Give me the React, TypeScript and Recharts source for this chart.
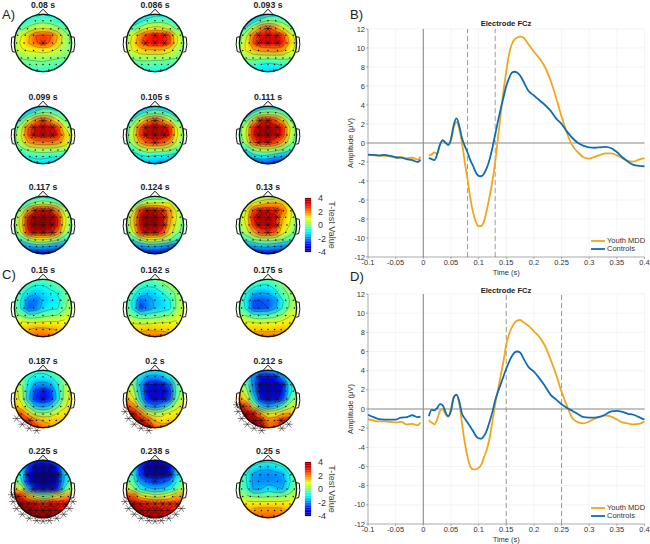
import {
  CartesianGrid,
  Legend,
  Line,
  LineChart,
  ReferenceArea,
  ReferenceDot,
  ReferenceLine,
  Scatter,
  ScatterChart,
  XAxis,
  YAxis,
} from 'recharts';

const FONT = '"Liberation Sans", Arial, sans-serif';

// waveform panels, null is the gap around stimulus onset
const times = [
  -0.1, -0.09, -0.08, -0.07, -0.06, -0.05, -0.04, -0.03, -0.02, -0.01, -0.005, 0.002,
  0.01, 0.015, 0.02, 0.025, 0.03, 0.035, 0.04, 0.045, 0.05, 0.055,
  0.06, 0.065, 0.07, 0.075, 0.08, 0.085, 0.09, 0.095, 0.1, 0.105,
  0.11, 0.115, 0.12, 0.125, 0.13, 0.135, 0.14, 0.145, 0.15, 0.155,
  0.16, 0.165, 0.17, 0.175, 0.18,
  0.19, 0.2, 0.21, 0.22, 0.23, 0.24, 0.25, 0.26, 0.27, 0.28, 0.29,
  0.3, 0.31, 0.32, 0.33, 0.34, 0.35, 0.36, 0.37, 0.38, 0.39, 0.4,
];

const mddB = [
  -1.2, -1.3, -1.35, -1.35, -1.4, -1.55, -1.5, -1.6, -1.55, -1.75, -1.45, null,
  -1.3, -1.2, -1.0, -1.1, -0.2, 0.25, 0, -0.2, 0.3, 1.6,
  2.2, 1.5, 0, -2, -3.8, -5.8, -7.3, -8.3, -8.75, -8.75,
  -8.2, -7, -5.6, -4, -2, 0.5, 3, 5.5, 7.5, 9.3,
  10.4, 10.9, 11.1, 11.2, 11.15,
  10.4, 9.6, 8.9, 8, 6.6, 4.8, 2.8, 1, -0.3, -1, -1.5,
  -1.65, -1.45, -1.25, -1.1, -1.1, -1.3, -1.6, -1.9, -1.95, -1.75, -1.6,
];
const controlsB = [
  -1.25, -1.25, -1.3, -1.25, -1.35, -1.5, -1.55, -1.7, -1.8, -2.0, -1.75, null,
  -1.55, -1.7, -1.8, -1.2, -0.2, 0.3, 0.05, -0.2, 0.4, 1.9,
  2.6, 1.8, 0.5, -0.3, -1, -1.8, -2.4, -3.1, -3.45, -3.5,
  -3.2, -2.6, -1.7, -0.5, 0.9, 2.3, 3.6, 4.8, 6, 6.8,
  7.4, 7.5, 7.4, 7.1, 6.6,
  5.5, 5, 4.5, 4, 3.4, 2.6, 2, 1.2, 0.5, 0, -0.3,
  -0.45, -0.5, -0.45, -0.4, -0.55, -0.95, -1.5, -1.95, -2.3, -2.4, -2.45,
];
const mddD = [
  -1.05, -1.2, -1.3, -1.3, -1.35, -1.4, -1.35, -1.6, -1.55, -1.7, -1.4, null,
  -1.15, -1.4, -1.6, -1.1, -0.2, 0, -0.5, -0.8, 0, 1.2,
  1.5, 0.6, -1.5, -3.5, -5, -6, -6.3, -6.3, -6.15, -5.8,
  -5, -4.2, -3, -1.3, 0.5, 2, 3.5, 5, 6.7, 7.8,
  8.5, 9, 9.25, 9.3, 9.1,
  8.7, 8.1, 7.5, 6.6, 5.2, 3.6, 1.8, 0.3, -1, -1.4, -1.5,
  -1.3, -1, -0.8, -0.7, -0.8, -1.1, -1.4, -1.5, -1.6, -1.55, -1.3,
];
const controlsD = [
  -0.6, -0.85, -1.05, -1.1, -1.1, -1.1, -0.9, -0.85, -0.65, -0.85, -0.8, null,
  -0.75, -0.1, -0.15, 0.1, 0.5, 0.4, -0.3, -0.75, -0.2, 1.2,
  1.5, 0.8, -0.5, -1, -1.4, -1.85, -2.3, -2.8, -3.05, -3.1,
  -2.8, -2.2, -1.3, -0.3, 0.9, 1.8, 2.6, 3.4, 4.2, 4.9,
  5.5, 5.9, 6, 5.9, 5.4,
  4.4, 3.9, 3.2, 2.4, 1.5, 1, 0.5, 0.1, -0.2, -0.55, -0.85,
  -0.9, -0.9, -0.8, -0.55, -0.25, -0.2, -0.3, -0.5, -0.6, -0.85, -1.1,
];
const timeTicks = [-0.1, -0.05, 0, 0.05, 0.1, 0.15, 0.2, 0.25, 0.3, 0.35, 0.4];
const ampTicks = [-12, -10, -8, -6, -4, -2, 0, 2, 4, 6, 8, 10, 12];

// t-values on a 9x9 scalp grid, front of the head first, left to right
const t080 = [
  [-1, -1, -1, -1, -0.8, -1, -1, -1, -1],
  [-1, -1, -0.6, -0.3, -0.2, -0.3, -0.6, -1, -1],
  [-0.5, -0.2, 0.3, 0.7, 0.9, 0.7, 0.3, -0.2, -0.5],
  [0, 0.8, 1.5, 2.4, 2.6, 2.5, 1.6, 0.4, -0.2],
  [0.2, 1, 1.6, 2.3, 2.7, 2.3, 1.4, 0.4, -0.1],
  [0.2, 0.7, 0.9, 1, 1.1, 1, 0.6, 0.2, 0],
  [-0.1, 0.1, 0.2, 0.2, 0.3, 0.2, 0.1, 0, -0.2],
  [-0.6, -0.4, -0.3, -0.2, -0.2, -0.3, -0.4, -0.6, -0.7],
  [-1, -1, -0.8, -0.6, -0.6, -0.6, -0.8, -1, -1],
];
const t086 = [
  [-1.5, -1.5, -1.5, -1.3, -1, -1, -1, -1, -1],
  [-1.5, -1.4, -0.9, -0.4, -0.2, -0.2, -0.4, -0.9, -1],
  [-0.8, -0.3, 0.4, 1, 1.2, 1.1, 0.6, -0.1, -0.4],
  [0, 1, 2, 2.8, 3, 3, 2.6, 0.9, 0],
  [0.3, 1.2, 2.3, 2.9, 3, 3, 2.6, 0.9, 0.1],
  [0.3, 0.9, 1.3, 1.5, 1.5, 1.5, 1.1, 0.4, 0.1],
  [0, 0.2, 0.3, 0.3, 0.3, 0.3, 0.2, 0.1, -0.1],
  [-0.6, -0.5, -0.3, -0.3, -0.4, -0.4, -0.5, -0.6, -0.7],
  [-1.1, -1, -0.9, -0.8, -0.8, -0.9, -1, -1.1, -1.2],
];
const t093 = [
  [-2.5, -2.5, -2.4, -1.8, -1.2, -1.1, -1, -1, -1],
  [-2.4, -2, -1, -0.2, 0.2, 0.1, -0.2, -0.6, -0.8],
  [-1.4, -0.5, 0.8, 2, 2.6, 2, 1, 0.2, -0.2],
  [-0.4, 0.7, 2.3, 3.1, 3.3, 3.2, 2.8, 1.2, 0.4],
  [0, 1, 2.5, 3.2, 3.3, 3.3, 3.1, 1.5, 0.7],
  [0.3, 0.9, 1.5, 1.8, 1.9, 2, 1.8, 1, 0.6],
  [0, 0.2, 0.3, 0.3, 0.3, 0.3, 0.3, 0.2, 0.1],
  [-0.6, -0.6, -0.5, -0.8, -1, -0.9, -0.7, -0.6, -0.6],
  [-1, -1.1, -1.1, -1.2, -1.3, -1.3, -1.3, -1.2, -1.1],
];
const t099 = [
  [-3, -3, -2.6, -1.8, -1.3, -1.3, -1.4, -1.6, -1.8],
  [-2.6, -2, -1, -0.2, 0.3, 0.1, -0.4, -1, -1.4],
  [-1.4, -0.5, 0.9, 2, 2.6, 2, 1, 0, -0.7],
  [-0.5, 0.6, 2.4, 3.3, 3.5, 3.4, 2.8, 0.9, 0],
  [-0.2, 0.9, 2.6, 3.4, 3.6, 3.5, 3.2, 1.5, 0.6],
  [-0.2, 0.6, 1.7, 2.1, 2.2, 2.2, 2, 1.3, 0.6],
  [-0.6, -0.2, 0.2, 0.4, 0.5, 0.5, 0.4, 0.3, 0],
  [-1.3, -1, -0.8, -0.6, -0.6, -0.7, -0.8, -0.9, -1],
  [-1.8, -1.7, -1.5, -1.2, -1.2, -1.4, -1.5, -1.6, -1.7],
];
const t105 = [
  [-2.8, -2.8, -2.4, -1.8, -1.5, -1.6, -1.9, -2.1, -2.4],
  [-2.4, -1.9, -0.9, -0.2, 0, -0.2, -0.7, -1.5, -2],
  [-1.2, -0.4, 1, 2, 2.6, 2, 1, -0.2, -1],
  [-0.5, 0.6, 2.5, 3.5, 3.7, 3.5, 3, 0.9, -0.1],
  [-0.3, 0.8, 2.7, 3.6, 3.7, 3.6, 3.2, 1, 0],
  [-0.4, 0.5, 1.8, 2.6, 2.8, 2.6, 1.9, 0.7, -0.1],
  [-1, -0.4, 0.2, 0.6, 0.6, 0.5, 0.3, -0.2, -0.7],
  [-1.8, -1.4, -1, -0.8, -1, -1, -1.1, -1.3, -1.5],
  [-2.3, -2.2, -1.9, -1.6, -1.7, -1.9, -2, -2.1, -2.2],
];
const t111 = [
  [-2.6, -2.6, -2.2, -1.6, -1.4, -1.4, -1.7, -2, -2.2],
  [-2.2, -1.6, -0.6, 0.2, 0.4, 0.3, -0.1, -1, -1.6],
  [-1, -0.2, 1.4, 2.8, 3.1, 2.6, 1.5, 0.2, -0.6],
  [-0.3, 0.8, 3, 3.7, 3.8, 3.6, 3, 0.9, -0.2],
  [-0.3, 0.9, 3.2, 3.8, 3.9, 3.6, 3, 0.8, -0.2],
  [-0.6, 0.5, 2.4, 3.1, 3.2, 2.7, 1.7, 0.4, -0.4],
  [-1.3, -0.6, 0.2, 0.6, 0.7, 0.4, 0, -0.5, -1],
  [-2.3, -1.8, -1.2, -1, -1.1, -1.4, -1.6, -1.8, -2],
  [-3.2, -3.2, -2.8, -2.5, -2.5, -2.9, -3, -3, -3],
];
const t117 = [
  [-1.6, -1.6, -1.4, -1.2, -1, -1.2, -1.4, -1.6, -1.8],
  [-1.3, -1, -0.3, 0.4, 0.6, 0.4, 0, -0.6, -1],
  [-0.6, 0.2, 1.8, 2.9, 3.2, 3, 2, 0.5, -0.1],
  [-0.1, 1.2, 3.5, 3.9, 4, 3.9, 3.3, 1, 0],
  [-0.1, 1.3, 3.6, 4, 4, 3.9, 3.3, 1, -0.1],
  [-0.4, 0.9, 3, 3.6, 3.7, 3.4, 2.2, 0.6, -0.4],
  [-1.2, -0.5, 0.3, 0.9, 1, 0.7, 0.2, -0.5, -1.1],
  [-2.4, -2.1, -1.6, -1.4, -1.4, -1.6, -1.8, -2.2, -2.5],
  [-3.6, -3.6, -3.5, -3.4, -3.4, -3.5, -3.6, -3.6, -3.7],
];
const t124 = [
  [-1, -1, -0.9, -0.7, -0.6, -0.7, -0.7, -1, -1.2],
  [-0.9, -0.3, 0.2, 0.8, 0.9, 1, 0.9, 0.1, -0.6],
  [-0.4, 0.7, 2.8, 3.4, 3.4, 2.8, 2, 0.7, -0.2],
  [0, 1.4, 3.6, 3.9, 3.9, 3.6, 1.9, 0.8, -0.1],
  [0, 1.4, 3.5, 3.9, 3.9, 3.5, 1.7, 0.6, -0.2],
  [-0.3, 0.9, 2.9, 3.6, 3.5, 2.9, 1.2, 0.3, -0.4],
  [-1.2, -0.5, 0.3, 0.9, 0.9, 0.6, 0.1, -0.6, -1.1],
  [-2.5, -2.2, -1.8, -1.5, -1.5, -1.7, -2, -2.3, -2.6],
  [-3.6, -3.6, -3.4, -3.3, -3.3, -3.4, -3.6, -3.6, -3.6],
];
const t130 = [
  [-0.6, -0.6, -0.3, 0, 0.2, 0.2, 0.1, -0.2, -0.6],
  [-0.4, 0.3, 0.9, 1.3, 1.6, 1.7, 1.5, 0.8, -0.1],
  [0, 0.8, 2.6, 3, 3, 2.9, 2.4, 1.1, 0.1],
  [0.2, 1.1, 3.2, 3.7, 3.7, 3.4, 1.7, 1, 0],
  [0.1, 0.9, 2.8, 3.6, 3.6, 3.3, 1.4, 0.8, -0.1],
  [-0.2, 0.5, 1.6, 2.7, 2.8, 2.4, 1.1, 0.4, -0.3],
  [-1, -0.5, 0, 0.3, 0.4, 0.3, 0, -0.4, -0.9],
  [-2.2, -2, -1.7, -1.4, -1.4, -1.6, -1.8, -2, -2.3],
  [-3.3, -3.4, -3.3, -3.1, -3.1, -3.2, -3.3, -3.4, -3.4],
];
const t150 = [
  [0.2, 0.1, 0, -0.2, -0.3, -0.2, 0, 0.1, 0.2],
  [0.1, -0.2, -0.6, -0.9, -0.9, -0.6, -0.4, -0.1, 0.2],
  [0, -0.6, -1.3, -1.5, -1.3, -1.1, -0.8, -0.3, 0.2],
  [0, -0.9, -2, -2.2, -1.5, -1.2, -1.1, -0.2, 0.3],
  [0, -0.9, -2.4, -2.1, -1.3, -1, -0.9, -0.1, 0.4],
  [0.2, -0.1, -0.6, -0.5, -0.3, -0.1, 0, 0.4, 0.7],
  [1, 0.9, 0.8, 0.8, 0.9, 0.9, 0.9, 1, 1],
  [1.3, 1.4, 1.6, 1.8, 1.8, 1.7, 1.5, 1.3, 1.2],
  [1.6, 1.7, 2, 2.2, 2.3, 2.2, 1.9, 1.6, 1.5],
];
const t162 = [
  [0.3, 0.1, 0, -0.2, -0.1, 0.2, 0.4, 0.4, 0.5],
  [0.1, -0.2, -0.6, -0.8, -0.7, -0.2, 0.1, 0.3, 0.5],
  [0, -0.6, -1.2, -1.5, -1.3, -0.9, -0.3, 0.1, 0.4],
  [-0.1, -1, -2.3, -1.9, -1.5, -1.3, -0.9, 0.1, 0.5],
  [-0.1, -1, -2.6, -2, -1.5, -1.3, -1, 0.1, 0.6],
  [0.2, -0.2, -0.6, -0.5, -0.4, -0.2, 0, 0.5, 0.8],
  [0.9, 0.7, 0.6, 0.6, 0.7, 0.8, 0.8, 0.9, 1],
  [1.3, 1.3, 1.4, 1.5, 1.4, 1.4, 1.3, 1.3, 1.3],
  [1.7, 1.8, 2, 2.2, 2.3, 2.2, 2, 1.8, 1.7],
];
const t175 = [
  [0.3, 0.2, 0, -0.1, -0.2, 0, 0.2, 0.4, 0.6],
  [0.1, -0.3, -0.7, -1, -1, -0.5, 0, 0.3, 0.5],
  [-0.1, -0.8, -1.5, -1.7, -1.6, -1.2, -0.3, 0.1, 0.4],
  [-0.2, -1.1, -2.4, -2.4, -2.3, -1.9, -0.9, 0, 0.4],
  [-0.1, -1, -2.5, -2.5, -2.4, -1.7, -0.8, 0.1, 0.6],
  [0.3, -0.1, -0.6, -0.7, -0.6, -0.3, 0.1, 0.7, 1],
  [1.1, 0.9, 0.8, 0.7, 0.8, 0.8, 1, 1.2, 1.3],
  [1.4, 1.4, 1.4, 1.4, 1.3, 1.4, 1.5, 1.4, 1.4],
  [1.8, 1.8, 2, 2.2, 2.2, 2.2, 2, 1.9, 1.8],
];
const t187 = [
  [0.2, 0, -0.3, -0.6, -0.6, -0.4, -0.1, 0.2, 0.4],
  [0.3, -0.1, -0.7, -1, -1.1, -0.9, -0.4, 0.1, 0.4],
  [0.9, 0.2, -1, -1.8, -1.9, -1.7, -0.9, 0.2, 0.7],
  [1.2, 0.4, -1.3, -2.6, -2.9, -2.7, -1.2, 0.3, 1],
  [1.3, 0.5, -1.4, -2.8, -3, -2.8, -1.3, 0.3, 1.2],
  [1.7, 1, -0.2, -1.5, -1.8, -1.4, -0.2, 0.6, 1.4],
  [2.7, 2.4, 1.2, 0.3, 0.1, 0.3, 0.8, 1.2, 1.6],
  [2.8, 2.9, 2.7, 1.9, 1.5, 1.4, 1.5, 1.5, 1.5],
  [2.8, 2.9, 2.9, 2.8, 2.2, 1.8, 1.7, 1.6, 1.6],
];
const t200 = [
  [0.4, 0.1, -0.4, -0.9, -1, -0.8, -0.2, 0.3, 0.5],
  [0.3, -0.2, -1.2, -1.8, -1.9, -1.7, -0.9, -0.1, 0.4],
  [0.9, -0.1, -1.6, -2.9, -3, -2.9, -2.3, -0.4, 0.4],
  [1.2, 0.3, -1.5, -3.2, -3.3, -3.3, -2.8, -0.5, 0.5],
  [1.7, 0.9, -1.2, -3, -3.3, -3.2, -2.6, -0.2, 0.7],
  [2.6, 2, 0.2, -1.7, -2.2, -1.7, -0.5, 0.5, 1.2],
  [3.5, 3.3, 2.2, 0.7, 0.3, 0.5, 1, 1.2, 1.4],
  [3.6, 3.6, 3.5, 2.6, 1.5, 1.2, 1.4, 1.4, 1.4],
  [3.6, 3.6, 3.5, 3.3, 2.4, 2, 2, 1.8, 1.6],
];
const t212 = [
  [0.2, -0.2, -1, -1.7, -1.8, -1.4, -0.7, -0.1, 0.3],
  [0.2, -0.6, -2, -3, -3.1, -2.9, -1.9, -0.6, 0.1],
  [0.6, -0.3, -2, -3.5, -3.5, -3.4, -3.1, -1.2, -0.1],
  [1.2, 0.3, -1.7, -3.5, -3.6, -3.5, -3.1, -1.1, 0],
  [2, 1, -1, -3.2, -3.5, -3.4, -2.7, -0.6, 0.4],
  [3, 2.6, 0.5, -1.2, -2, -1.5, -0.5, 0.4, 1],
  [3.8, 3.7, 3, 1.7, 0.7, 0.9, 1.4, 1.6, 1.6],
  [3.9, 3.9, 3.8, 3.4, 2, 2.2, 2.8, 3, 2.2],
  [3.9, 3.9, 3.9, 3.6, 2.4, 2.2, 2.8, 3, 2.2],
];
const t225 = [
  [-0.4, -1, -2, -2.8, -2.8, -2.7, -2, -1.1, -0.4],
  [-0.2, -1, -2.8, -3.5, -3.6, -3.6, -3, -1.2, -0.4],
  [0, -1, -3.2, -3.8, -3.9, -3.9, -3.6, -1.5, -0.5],
  [0.3, -0.7, -3.1, -3.9, -4, -3.9, -3.6, -1.4, -0.3],
  [1.6, 0.8, -1.6, -3.2, -3.6, -3.6, -2.9, -0.6, 0.5],
  [3, 2.9, 1.6, 0.5, -0.2, 0.2, 0.9, 1.6, 2],
  [3.8, 3.8, 3.4, 3.2, 2.6, 3, 3, 3, 2.8],
  [4, 4, 3.9, 3.6, 3.8, 3.6, 3.4, 3.2, 3],
  [4, 4, 4, 3.8, 3.9, 3.8, 3.4, 3.3, 3],
];
const t238 = [
  [-0.4, -1.1, -2.4, -3.2, -3.4, -3.2, -2.6, -1.4, -0.6],
  [-0.2, -1, -2.8, -3.6, -3.9, -3.8, -3.4, -1.7, -0.6],
  [0, -0.8, -2.7, -3.6, -3.8, -3.8, -3.3, -1.4, -0.4],
  [0.2, -0.5, -1.8, -2.4, -2.6, -2.5, -2.1, -0.8, -0.1],
  [1, 0.2, -0.9, -1.4, -1.6, -1.5, -1, -0.2, 0.6],
  [2.6, 2.4, 1.2, 0.8, 0.4, 0.6, 1, 1.6, 2],
  [3.6, 3.5, 3, 2.8, 2.6, 2.6, 2.6, 2.6, 2.4],
  [3.9, 3.8, 3.6, 3.3, 3.6, 3.2, 3.1, 2.9, 2.6],
  [3.9, 3.8, 3.7, 3.4, 3.7, 3.3, 3.2, 3, 2.6],
];
const t250 = [
  [0.3, 0.1, -0.1, -0.5, -0.6, -0.4, -0.1, 0.2, 0.3],
  [0, -0.5, -1, -1.4, -1.4, -1.2, -0.9, -0.3, 0.2],
  [-0.1, -0.8, -1.8, -1.9, -2, -1.9, -1.7, -0.8, 0],
  [-0.1, -0.8, -1.8, -1.9, -1.9, -1.9, -1.9, -0.9, 0.1],
  [-0.1, -0.6, -1.7, -1.6, -1.1, -1.4, -1.6, -0.6, 0.2],
  [0.5, 0.1, -0.1, -0.2, -0.1, -0.1, 0, 0.3, 0.7],
  [1.2, 1.1, 1.1, 1.1, 1.1, 1.1, 1.1, 1.1, 1.2],
  [1.5, 1.6, 1.8, 1.9, 1.9, 1.9, 1.8, 1.6, 1.5],
  [1.8, 1.9, 2.2, 2.3, 2.3, 2.3, 2.2, 1.9, 1.7],
];

const labelsA = ['0.08 s', '0.086 s', '0.093 s', '0.099 s', '0.105 s', '0.111 s', '0.117 s', '0.124 s', '0.13 s'];
const gridsA = [t080, t086, t093, t099, t105, t111, t117, t124, t130];
const labelsC = ['0.15 s', '0.162 s', '0.175 s', '0.187 s', '0.2 s', '0.212 s', '0.225 s', '0.238 s', '0.25 s'];
const gridsC = [t150, t162, t175, t187, t200, t212, t225, t238, t250];

// channel layout in head units
const electrodeRows: [number, number[]][] = [
  [0.78, [-0.27, 0, 0.27]],
  [0.5, [-0.8, -0.54, -0.27, 0, 0.27, 0.54, 0.8]],
  [0.27, [-0.88, -0.62, -0.33, 0, 0.33, 0.62, 0.88]],
  [0, [-0.92, -0.66, -0.33, 0, 0.33, 0.66, 0.92]],
  [-0.26, [-0.88, -0.62, -0.33, 0, 0.33, 0.62, 0.88]],
  [-0.52, [-0.76, -0.52, -0.27, 0, 0.27, 0.52, 0.76]],
  [-0.75, [-0.46, -0.23, 0, 0.23, 0.46]],
  [-0.94, [-0.2, 0.2]],
];
const rimX = [-1.08, -1.04, -0.92, -0.72, -0.48, -0.22, 0, 0.22, 0.48, 0.72, 0.92, 1.04, 1.08];
const rimY = [-0.2, -0.44, -0.68, -0.88, -1.02, -1.1, -1.12, -1.1, -1.02, -0.88, -0.68, -0.44, -0.2];
const noseX = [-0.18, 0, 0.18];
const noseY = [0.99, 1.18, 0.99];
const earX = [0.98, 1.09, 1.11, 1.07, 0.98];
const earY = [0.22, 0.2, -0.05, -0.3, -0.32];

const contourLevels = [-3.2, -2.4, -1.6, -0.8, 0, 0.8, 1.6, 2.4, 3.2];
const colorBands = [
  -4, -3.75, -3.5, -3.25, -3, -2.75, -2.5, -2.25, -2, -1.75, -1.5, -1.25, -1, -0.75, -0.5, -0.25,
  0, 0.25, 0.5, 0.75, 1, 1.25, 1.5, 1.75, 2, 2.25, 2.5, 2.75, 3, 3.25, 3.5, 3.75,
];
const colorTicks = [-4, -2, 0, 2, 4];

const STAR_LIMIT = 2.55;
const TOPO_SIZE = 86;
const TOPO_DOMAIN = [-1.5, 1.5];
const columnX = [43, 155, 268];
const rowsA = [43, 135, 225];
const rowsC = [308, 399, 489];

function jet(v: number) {
  const t = Math.min(1, Math.max(0, (v + 4) / 8));
  const ch = (c: number) => Math.round(255 * Math.min(1, Math.max(0, 1.5 - Math.abs(4 * t - c))));
  return `rgb(${ch(3)},${ch(2)},${ch(1)})`;
}

function valueAt(grid: number[][], x: number, y: number) {
  const cx = Math.min(7.999, Math.max(0, (x + 1) * 4));
  const cy = Math.min(7.999, Math.max(0, (1 - y) * 4));
  const i = Math.floor(cx);
  const j = Math.floor(cy);
  const a = cx - i;
  const b = cy - j;
  return (
    grid[j][i] * (1 - a) * (1 - b) + grid[j][i + 1] * a * (1 - b) +
    grid[j + 1][i] * (1 - a) * b + grid[j + 1][i + 1] * a * b
  );
}

function heatCells(grid: number[][]) {
  const cells: { x: number; y: number; v: number }[] = [];
  for (let r = -1; r <= 9; r++) {
    for (let c = -1; c <= 9; c++) {
      const rr = Math.min(8, Math.max(0, r));
      const cc = Math.min(8, Math.max(0, c));
      cells.push({ x: -1 + c * 0.25, y: 1 - r * 0.25, v: grid[rr][cc] });
    }
  }
  return cells;
}

// marching squares over the grid, gives contour pieces in head units
function contourSegments(grid: number[][]) {
  const segs: { a: { x: number; y: number }; b: { x: number; y: number } }[] = [];
  const px = (c: number) => -1 + c * 0.25;
  const py = (r: number) => 1 - r * 0.25;
  contourLevels.forEach((lv) => {
    for (let r = 0; r < 8; r++) {
      for (let c = 0; c < 8; c++) {
        const p = [
          { x: px(c), y: py(r), v: grid[r][c] },
          { x: px(c + 1), y: py(r), v: grid[r][c + 1] },
          { x: px(c + 1), y: py(r + 1), v: grid[r + 1][c + 1] },
          { x: px(c), y: py(r + 1), v: grid[r + 1][c] },
        ];
        const hits: { x: number; y: number }[] = [];
        for (let k = 0; k < 4; k++) {
          const u = p[k];
          const w = p[(k + 1) % 4];
          if (u.v >= lv !== w.v >= lv) {
            const f = (lv - u.v) / (w.v - u.v);
            hits.push({ x: u.x + (w.x - u.x) * f, y: u.y + (w.y - u.y) * f });
          }
        }
        for (let k = 0; k + 1 < hits.length; k += 2) {
          const a = hits[k];
          const b = hits[k + 1];
          if (Math.hypot(a.x, a.y) <= 1 && Math.hypot(b.x, b.y) <= 1) segs.push({ a, b });
        }
      }
    }
  });
  return segs;
}

const electrodes = electrodeRows.flatMap(([y, xs]) => xs.map((x) => ({ x, y })));
const rim = rimX.map((x, i) => ({ x, y: rimY[i] }));
const nose = noseX.map((x, i) => ({ x, y: noseY[i] }));
const earRight = earX.map((x, i) => ({ x, y: earY[i] }));
const earLeft = earX.map((x, i) => ({ x: -x, y: earY[i] }));

function HeatCell(props: any) {
  return (
    <rect
      x={props.cx - 3.8}
      y={props.cy - 3.8}
      width={7.6}
      height={7.6}
      fill={jet(props.payload.v)}
    />
  );
}

function Star(props: any) {
  const { cx, cy } = props;
  const r = 4;
  return (
    <g stroke="#1a1010" strokeWidth={0.55}>
      <line x1={cx - r} y1={cy} x2={cx + r} y2={cy} />
      <line x1={cx - r * 0.6} y1={cy - r * 0.8} x2={cx + r * 0.6} y2={cy + r * 0.8} />
      <line x1={cx - r * 0.6} y1={cy + r * 0.8} x2={cx + r * 0.6} y2={cy - r * 0.8} />
    </g>
  );
}

function Dot(props: any) {
  return <circle cx={props.cx} cy={props.cy} r={0.75} fill="#111" />;
}

const NoShape = () => <g />;

function Topo({ label, grid, x, y, bothSigns }: { label: string; grid: number[][]; x: number; y: number; bothSigns: boolean }) {
  const left = x - TOPO_SIZE / 2;
  const top = y - TOPO_SIZE / 2;
  const stars = [...electrodes, ...rim].filter((e) => {
    const v = valueAt(grid, e.x, e.y);
    const onRim = Math.hypot(e.x, e.y) > 1;
    return v >= STAR_LIMIT || (bothSigns && !onRim && v <= -STAR_LIMIT);
  });
  const axes = [
    <XAxis key="x" type="number" dataKey="x" domain={TOPO_DOMAIN} hide />,
    <YAxis key="y" type="number" dataKey="y" domain={TOPO_DOMAIN} hide />,
  ];
  const margin = { top: 0, right: 0, bottom: 0, left: 0 };
  return (
    <>
      <div
        style={{
          position: 'absolute',
          left: x - 40,
          width: 80,
          top: y - 43,
          textAlign: 'center',
          fontSize: 8.7,
          fontWeight: 'bold',
          color: '#222',
          fontFamily: FONT,
          lineHeight: '10px',
        }}
      >
        {label}
      </div>
      <div
        style={{
          position: 'absolute',
          left,
          top,
          width: TOPO_SIZE,
          height: TOPO_SIZE,
          clipPath: 'circle(29.5px at 50% 50%)',
        }}
      >
        <div style={{ filter: 'blur(2.6px)' }}>
          <ScatterChart width={TOPO_SIZE} height={TOPO_SIZE} margin={margin}>
            {axes}
            <Scatter data={heatCells(grid)} shape={HeatCell} isAnimationActive={false} />
          </ScatterChart>
        </div>
      </div>
      <div style={{ position: 'absolute', left, top }}>
        <ScatterChart width={TOPO_SIZE} height={TOPO_SIZE} margin={margin}>
          {axes}
          {contourSegments(grid).map((s, i) => (
            <ReferenceLine
              key={i}
              segment={[s.a, s.b]}
              stroke="#000"
              strokeOpacity={0.5}
              strokeWidth={0.5}
            />
          ))}
          <ReferenceDot x={0} y={0} r={28.6} fill="none" stroke="#111" strokeWidth={1.3} />
          <Scatter data={nose} line={{ stroke: '#111', strokeWidth: 1 }} lineType="joint" shape={NoShape} isAnimationActive={false} />
          <Scatter data={earRight} line={{ stroke: '#111', strokeWidth: 1 }} lineType="joint" shape={NoShape} isAnimationActive={false} />
          <Scatter data={earLeft} line={{ stroke: '#111', strokeWidth: 1 }} lineType="joint" shape={NoShape} isAnimationActive={false} />
          <Scatter data={electrodes} shape={Dot} isAnimationActive={false} />
          <Scatter data={stars} shape={Star} isAnimationActive={false} />
        </ScatterChart>
      </div>
    </>
  );
}

function ColorBar({ top }: { top: number }) {
  const anchors = colorTicks.map((y) => ({ x: 0.5, y }));
  return (
    <div style={{ position: 'absolute', left: 304, top: top - 6 }}>
      <ScatterChart width={42} height={66} margin={{ top: 6, right: 0, bottom: 6, left: 1 }}>
        <XAxis type="number" dataKey="x" domain={[0, 1]} hide />
        <YAxis
          type="number"
          dataKey="y"
          orientation="right"
          width={35}
          domain={[-4, 4]}
          ticks={colorTicks}
          tick={{ fontSize: 9, fill: '#333', fontFamily: FONT }}
          tickLine={false}
          axisLine={false}
          tickMargin={1}
          interval={0}
          label={{
            value: 'T-test Value',
            angle: 90,
            position: 'insideRight',
            dx: -9,
            style: { fontSize: 9, fill: '#444', fontFamily: FONT, textAnchor: 'middle' },
          }}
        />
        {colorBands.map((b) => (
          <ReferenceArea key={b} x1={0} x2={1} y1={b} y2={b + 0.25} fill={jet(b + 0.125)} fillOpacity={1} stroke={jet(b + 0.125)} strokeWidth={0.2} />
        ))}
        <Scatter data={anchors} shape={NoShape} isAnimationActive={false} />
      </ScatterChart>
    </div>
  );
}

function ErpLegend({ payload }: any) {
  return (
    <div style={{ lineHeight: '8px', whiteSpace: 'nowrap' }}>
      {(payload || []).map((p: any) => (
        <div key={p.value} style={{ height: 8, display: 'flex', alignItems: 'center' }}>
          <svg width={16} height={4} style={{ display: 'block' }}>
            <line x1={0} x2={14} y1={2} y2={2} stroke={p.color} strokeWidth={1.8} />
          </svg>
          <span style={{ color: '#333', fontSize: 7.5, fontFamily: FONT }}>{p.value}</span>
        </div>
      ))}
    </div>
  );
}

function ErpPanel({ top, mdd, controls, marks, plotTop, plotBottom, titleY }: {
  top: number;
  mdd: (number | null)[];
  controls: (number | null)[];
  marks: number[];
  plotTop: number;
  plotBottom: number;
  titleY: number;
}) {
  const rows = times.map((t, i) => ({ t, mdd: mdd[i], controls: controls[i] }));
  const tick = { fontSize: 7.5, fill: '#333', fontFamily: FONT };
  const height = plotBottom + 20;
  return (
    <>
      <div
        style={{
          position: 'absolute',
          left: 368,
          width: 276,
          top: titleY,
          textAlign: 'center',
          fontSize: 7.6,
          fontWeight: 'bold',
          color: '#222',
          fontFamily: FONT,
          lineHeight: '9px',
        }}
      >
        Electrode FCz
      </div>
      <div style={{ position: 'absolute', left: 340, top }}>
        <LineChart
          width={310}
          height={height}
          data={rows}
          margin={{ top: plotTop, right: 5.5, bottom: 0, left: 8 }}
        >
          <CartesianGrid stroke="#ececec" strokeWidth={0.6} verticalValues={timeTicks} horizontalValues={ampTicks} />
          <XAxis
            dataKey="t"
            type="number"
            domain={[-0.1, 0.4]}
            ticks={timeTicks}
            interval={0}
            height={20}
            tick={tick}
            tickSize={2}
            tickMargin={1}
            stroke="#666"
            strokeWidth={0.5}
            label={{ value: 'Time (s)', position: 'insideBottom', offset: 2, style: { fontSize: 7.5, fill: '#333', fontFamily: FONT } }}
          />
          <YAxis
            type="number"
            domain={[-12, 12]}
            ticks={ampTicks}
            interval={0}
            width={20}
            tick={tick}
            tickSize={2}
            tickMargin={1}
            stroke="#666"
            strokeWidth={0.5}
            label={{ value: 'Amplitude (\u03bcV)', angle: -90, position: 'insideLeft', offset: 2, style: { fontSize: 7.5, fill: '#333', fontFamily: FONT, textAnchor: 'middle' } }}
          />
          <ReferenceLine x={0} stroke="#8c8c8c" strokeWidth={1.1} />
          <ReferenceLine y={0} stroke="#8c8c8c" strokeWidth={1.1} />
          {marks.map((m) => (
            <ReferenceLine key={m} x={m} stroke="#9a9a9a" strokeWidth={1} strokeDasharray="5 3" />
          ))}
          <Line name="Youth MDD" dataKey="mdd" type="monotone" stroke="#efa71c" strokeWidth={1.8} dot={false} connectNulls={false} isAnimationActive={false} />
          <Line name="Controls" dataKey="controls" type="monotone" stroke="#0f6cb6" strokeWidth={1.8} dot={false} connectNulls={false} isAnimationActive={false} />
          <Legend
            layout="vertical"
            align="center"
            verticalAlign="middle"
            itemSorter={null}
            content={ErpLegend}
            wrapperStyle={{ left: 251, top: plotBottom - 20, width: 59 }}
          />
        </LineChart>
      </div>
    </>
  );
}

function PanelLabel({ text, x, y }: { text: string; x: number; y: number }) {
  return (
    <div style={{ position: 'absolute', left: x, top: y, fontSize: 13, color: '#222', fontFamily: FONT, lineHeight: '14px' }}>
      {text}
    </div>
  );
}

export default function App() {
  return (
    <div style={{ position: 'absolute', left: 0, top: 0, width: 650, height: 544, background: '#fff', overflow: 'hidden' }}>
      {labelsA.map((l, i) => (
        <Topo key={l} label={l} grid={gridsA[i]} x={columnX[i % 3]} y={rowsA[Math.floor(i / 3)]} bothSigns={false} />
      ))}
      {labelsC.map((l, i) => (
        <Topo key={l} label={l} grid={gridsC[i]} x={columnX[i % 3]} y={rowsC[Math.floor(i / 3)]} bothSigns />
      ))}
      <ColorBar top={198} />
      <ColorBar top={462} />
      <ErpPanel top={0} mdd={mddB} controls={controlsB} marks={[0.08, 0.13]} plotTop={29} plotBottom={257} titleY={19} />
      <ErpPanel top={272} mdd={mddD} controls={controlsD} marks={[0.15, 0.25]} plotTop={22} plotBottom={252} titleY={286} />
      <PanelLabel text="A)" x={2} y={8} />
      <PanelLabel text="B)" x={350} y={8} />
      <PanelLabel text="C)" x={2} y={268} />
      <PanelLabel text="D)" x={350} y={270} />
    </div>
  );
}
